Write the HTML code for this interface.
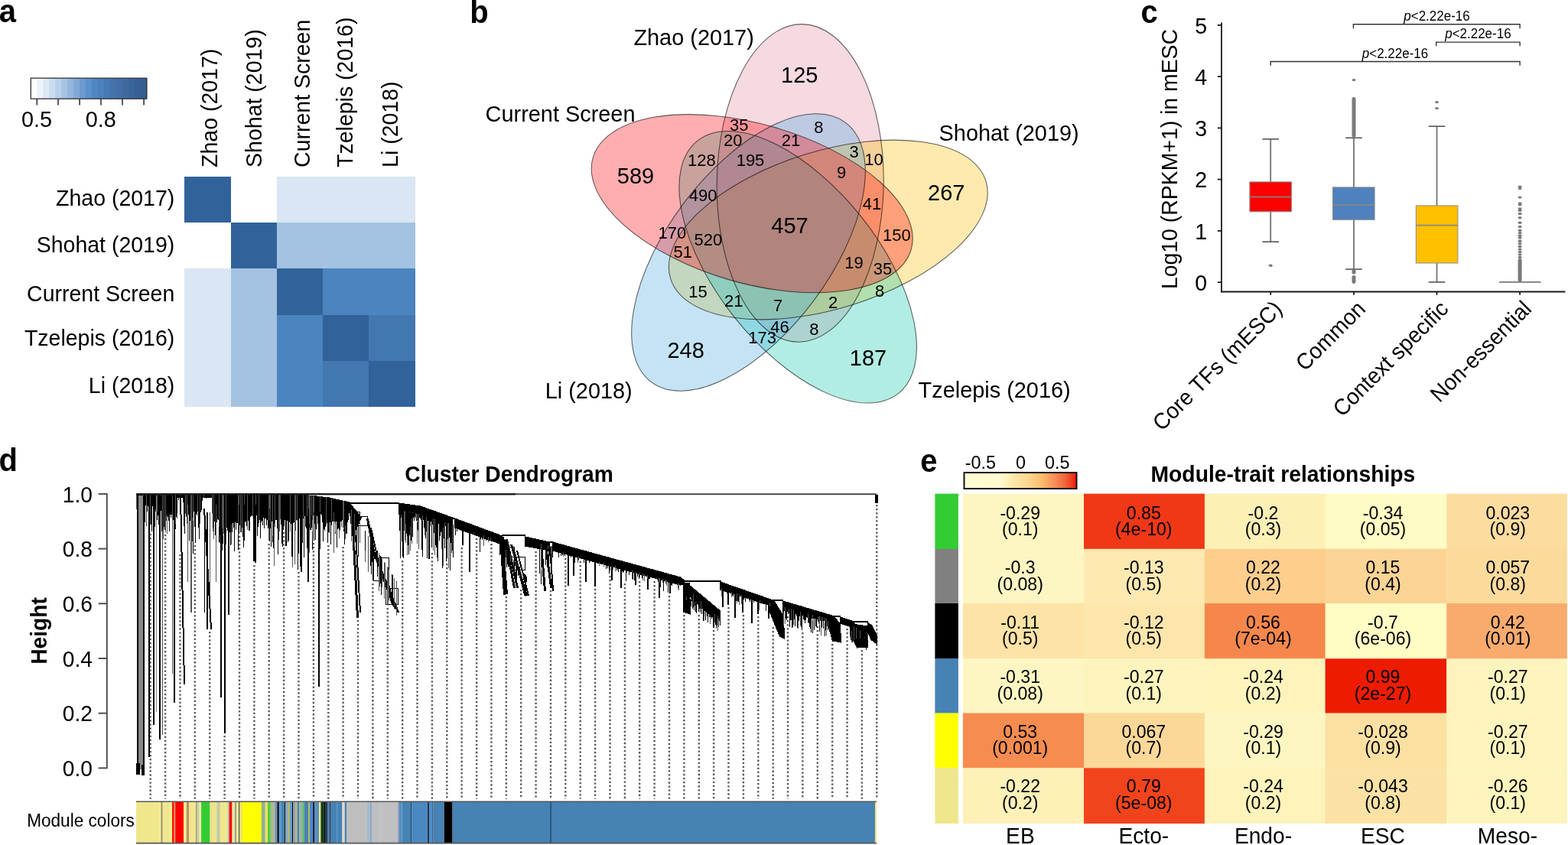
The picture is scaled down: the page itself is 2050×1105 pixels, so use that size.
<!DOCTYPE html>
<html><head><meta charset="utf-8"><title>Figure</title>
<style>html,body{margin:0;padding:0;background:#fff;}body{width:2050px;height:1105px;overflow:hidden;}svg{display:block;}</style>
</head><body>
<svg width="2050" height="1105" viewBox="0 0 2050 1105" font-family="'Liberation Sans', Arial, Helvetica, sans-serif">
<text transform="translate(-1.3 29.3) scale(1 1.04)" font-size="40" text-anchor="start" font-weight="bold">a</text>
<rect x="40.30" y="102.2" width="8.57" height="26.999999999999986" fill="#ffffff"/>
<rect x="48.27" y="102.2" width="8.57" height="26.999999999999986" fill="#eef3fa"/>
<rect x="56.24" y="102.2" width="8.57" height="26.999999999999986" fill="#dde8f4"/>
<rect x="64.21" y="102.2" width="8.57" height="26.999999999999986" fill="#cbdcee"/>
<rect x="72.17" y="102.2" width="8.57" height="26.999999999999986" fill="#b8d0ea"/>
<rect x="80.14" y="102.2" width="8.57" height="26.999999999999986" fill="#a5c3e3"/>
<rect x="88.11" y="102.2" width="8.57" height="26.999999999999986" fill="#93b6dd"/>
<rect x="96.08" y="102.2" width="8.57" height="26.999999999999986" fill="#80a9d6"/>
<rect x="104.05" y="102.2" width="8.57" height="26.999999999999986" fill="#6b9bd0"/>
<rect x="112.02" y="102.2" width="8.57" height="26.999999999999986" fill="#5b91cb"/>
<rect x="119.98" y="102.2" width="8.57" height="26.999999999999986" fill="#4e87c2"/>
<rect x="127.95" y="102.2" width="8.57" height="26.999999999999986" fill="#4a80bc"/>
<rect x="135.92" y="102.2" width="8.57" height="26.999999999999986" fill="#4779b3"/>
<rect x="143.89" y="102.2" width="8.57" height="26.999999999999986" fill="#4473ac"/>
<rect x="151.86" y="102.2" width="8.57" height="26.999999999999986" fill="#416ea6"/>
<rect x="159.83" y="102.2" width="8.57" height="26.999999999999986" fill="#3e6aa0"/>
<rect x="167.79" y="102.2" width="8.57" height="26.999999999999986" fill="#3a659a"/>
<rect x="175.76" y="102.2" width="8.57" height="26.999999999999986" fill="#365f94"/>
<rect x="183.73" y="102.2" width="8.57" height="26.999999999999986" fill="#345c90"/>
<rect x="40.3" y="102.2" width="151.39999999999998" height="26.999999999999986" fill="none" stroke="#333" stroke-width="1.3"/>
<line x1="48.3" y1="129.2" x2="48.3" y2="137.4" stroke="#333" stroke-width="1.6"/>
<line x1="76" y1="129.2" x2="76" y2="137.4" stroke="#333" stroke-width="1.6"/>
<line x1="104.1" y1="129.2" x2="104.1" y2="137.4" stroke="#333" stroke-width="1.6"/>
<line x1="132" y1="129.2" x2="132" y2="137.4" stroke="#333" stroke-width="1.6"/>
<line x1="160" y1="129.2" x2="160" y2="137.4" stroke="#333" stroke-width="1.6"/>
<line x1="188.1" y1="129.2" x2="188.1" y2="137.4" stroke="#333" stroke-width="1.6"/>
<text transform="translate(48.0 166.2) scale(1 1.04)" font-size="28.8" text-anchor="middle">0.5</text>
<text transform="translate(131.8 166.2) scale(1 1.04)" font-size="28.8" text-anchor="middle">0.8</text>
<rect x="241.30" y="231.00" width="60.52" height="60.52" fill="#31639a" shape-rendering="crispEdges"/>
<rect x="301.52" y="231.00" width="60.52" height="60.52" fill="#ffffff" shape-rendering="crispEdges"/>
<rect x="361.74" y="231.00" width="60.52" height="60.52" fill="#dae6f3" shape-rendering="crispEdges"/>
<rect x="421.96" y="231.00" width="60.52" height="60.52" fill="#dae6f3" shape-rendering="crispEdges"/>
<rect x="482.18" y="231.00" width="60.52" height="60.52" fill="#dae6f3" shape-rendering="crispEdges"/>
<rect x="241.30" y="291.22" width="60.52" height="60.52" fill="#ffffff" shape-rendering="crispEdges"/>
<rect x="301.52" y="291.22" width="60.52" height="60.52" fill="#31639a" shape-rendering="crispEdges"/>
<rect x="361.74" y="291.22" width="60.52" height="60.52" fill="#a4c2e2" shape-rendering="crispEdges"/>
<rect x="421.96" y="291.22" width="60.52" height="60.52" fill="#a4c2e2" shape-rendering="crispEdges"/>
<rect x="482.18" y="291.22" width="60.52" height="60.52" fill="#a4c2e2" shape-rendering="crispEdges"/>
<rect x="241.30" y="351.44" width="60.52" height="60.52" fill="#dae6f3" shape-rendering="crispEdges"/>
<rect x="301.52" y="351.44" width="60.52" height="60.52" fill="#a4c2e2" shape-rendering="crispEdges"/>
<rect x="361.74" y="351.44" width="60.52" height="60.52" fill="#31639a" shape-rendering="crispEdges"/>
<rect x="421.96" y="351.44" width="60.52" height="60.52" fill="#4b84be" shape-rendering="crispEdges"/>
<rect x="482.18" y="351.44" width="60.52" height="60.52" fill="#4b84be" shape-rendering="crispEdges"/>
<rect x="241.30" y="411.66" width="60.52" height="60.52" fill="#dae6f3" shape-rendering="crispEdges"/>
<rect x="301.52" y="411.66" width="60.52" height="60.52" fill="#a4c2e2" shape-rendering="crispEdges"/>
<rect x="361.74" y="411.66" width="60.52" height="60.52" fill="#4b84be" shape-rendering="crispEdges"/>
<rect x="421.96" y="411.66" width="60.52" height="60.52" fill="#31639a" shape-rendering="crispEdges"/>
<rect x="482.18" y="411.66" width="60.52" height="60.52" fill="#4377b0" shape-rendering="crispEdges"/>
<rect x="241.30" y="471.88" width="60.52" height="60.52" fill="#dae6f3" shape-rendering="crispEdges"/>
<rect x="301.52" y="471.88" width="60.52" height="60.52" fill="#a4c2e2" shape-rendering="crispEdges"/>
<rect x="361.74" y="471.88" width="60.52" height="60.52" fill="#4b84be" shape-rendering="crispEdges"/>
<rect x="421.96" y="471.88" width="60.52" height="60.52" fill="#4377b0" shape-rendering="crispEdges"/>
<rect x="482.18" y="471.88" width="60.52" height="60.52" fill="#31639a" shape-rendering="crispEdges"/>
<text transform="translate(228.3 268.7) scale(1 1.04)" font-size="28.5" text-anchor="end">Zhao (2017)</text>
<text transform="translate(228.3 329.8) scale(1 1.04)" font-size="28.5" text-anchor="end">Shohat (2019)</text>
<text transform="translate(228.3 393.5) scale(1 1.04)" font-size="28.5" text-anchor="end">Current Screen</text>
<text transform="translate(228.3 452.2) scale(1 1.04)" font-size="28.5" text-anchor="end">Tzelepis (2016)</text>
<text transform="translate(228.3 513.5) scale(1 1.04)" font-size="28.5" text-anchor="end">Li (2018)</text>
<text x="0" y="0" font-size="28.5" transform="translate(283.5,218.9) rotate(-90) scale(1 1.04)">Zhao (2017)</text>
<text x="0" y="0" font-size="28.5" transform="translate(342.2,218.9) rotate(-90) scale(1 1.04)">Shohat (2019)</text>
<text x="0" y="0" font-size="28.5" transform="translate(404.5,218.9) rotate(-90) scale(1 1.04)">Current Screen</text>
<text x="0" y="0" font-size="28.5" transform="translate(461.0,218.9) rotate(-90) scale(1 1.04)">Tzelepis (2016)</text>
<text x="0" y="0" font-size="28.5" transform="translate(519.8,218.9) rotate(-90) scale(1 1.04)">Li (2018)</text>
<text transform="translate(614.3 29.5) scale(1 1.04)" font-size="40" text-anchor="start" font-weight="bold">b</text>
<ellipse cx="1046.2" cy="239.4" rx="207.8" ry="109.0" transform="rotate(90.8 1046.2 239.4)" fill="#e388a1" fill-opacity="0.32" stroke="none"/>
<ellipse cx="1082.8" cy="300.5" rx="215.8" ry="103.1" transform="rotate(162.8 1082.8 300.5)" fill="#fcbd02" fill-opacity="0.32" stroke="none"/>
<ellipse cx="1043.2" cy="349.3" rx="211.0" ry="105.8" transform="rotate(51.5 1043.2 349.3)" fill="#0ec7ab" fill-opacity="0.32" stroke="none"/>
<ellipse cx="978.5" cy="330.0" rx="211.9" ry="106.2" transform="rotate(126.8 978.5 330.0)" fill="#47abe3" fill-opacity="0.32" stroke="none"/>
<ellipse cx="983.2" cy="266.2" rx="216.5" ry="104.0" transform="rotate(16.1 983.2 266.2)" fill="#ff0208" fill-opacity="0.32" stroke="none"/>
<ellipse cx="1046.2" cy="239.4" rx="207.8" ry="109.0" transform="rotate(90.8 1046.2 239.4)" fill="none" stroke="#000" stroke-opacity="0.62" stroke-width="1.05"/>
<ellipse cx="1082.8" cy="300.5" rx="215.8" ry="103.1" transform="rotate(162.8 1082.8 300.5)" fill="none" stroke="#000" stroke-opacity="0.62" stroke-width="1.05"/>
<ellipse cx="1043.2" cy="349.3" rx="211.0" ry="105.8" transform="rotate(51.5 1043.2 349.3)" fill="none" stroke="#000" stroke-opacity="0.62" stroke-width="1.05"/>
<ellipse cx="978.5" cy="330.0" rx="211.9" ry="106.2" transform="rotate(126.8 978.5 330.0)" fill="none" stroke="#000" stroke-opacity="0.62" stroke-width="1.05"/>
<ellipse cx="983.2" cy="266.2" rx="216.5" ry="104.0" transform="rotate(16.1 983.2 266.2)" fill="none" stroke="#000" stroke-opacity="0.62" stroke-width="1.05"/>
<text transform="translate(1045.3 107.7) scale(1 1.04)" font-size="29" text-anchor="middle">125</text>
<text transform="translate(831.0 239.5) scale(1 1.04)" font-size="29" text-anchor="middle">589</text>
<text transform="translate(1237.2 261.8) scale(1 1.04)" font-size="29" text-anchor="middle">267</text>
<text transform="translate(896.6 468.0) scale(1 1.04)" font-size="29" text-anchor="middle">248</text>
<text transform="translate(1135.0 478.0) scale(1 1.04)" font-size="29" text-anchor="middle">187</text>
<text transform="translate(1032.5 305.4) scale(1 1.04)" font-size="29" text-anchor="middle">457</text>
<text transform="translate(966.2 170.7) scale(1 1.04)" font-size="22" text-anchor="middle">35</text>
<text transform="translate(1070.3 173.7) scale(1 1.04)" font-size="22" text-anchor="middle">8</text>
<text transform="translate(958.3 191.2) scale(1 1.04)" font-size="22" text-anchor="middle">20</text>
<text transform="translate(1034.0 191.2) scale(1 1.04)" font-size="22" text-anchor="middle">21</text>
<text transform="translate(1116.6 206.2) scale(1 1.04)" font-size="22" text-anchor="middle">3</text>
<text transform="translate(1142.4 216.2) scale(1 1.04)" font-size="22" text-anchor="middle">10</text>
<text transform="translate(917.4 216.8) scale(1 1.04)" font-size="22" text-anchor="middle">128</text>
<text transform="translate(981.0 216.8) scale(1 1.04)" font-size="22" text-anchor="middle">195</text>
<text transform="translate(1100.2 232.7) scale(1 1.04)" font-size="22" text-anchor="middle">9</text>
<text transform="translate(919.2 262.9) scale(1 1.04)" font-size="22" text-anchor="middle">490</text>
<text transform="translate(1140.0 274.2) scale(1 1.04)" font-size="22" text-anchor="middle">41</text>
<text transform="translate(878.9 311.9) scale(1 1.04)" font-size="22" text-anchor="middle">170</text>
<text transform="translate(925.8 320.7) scale(1 1.04)" font-size="22" text-anchor="middle">520</text>
<text transform="translate(1172.3 314.7) scale(1 1.04)" font-size="22" text-anchor="middle">150</text>
<text transform="translate(892.8 336.8) scale(1 1.04)" font-size="22" text-anchor="middle">51</text>
<text transform="translate(1116.6 350.7) scale(1 1.04)" font-size="22" text-anchor="middle">19</text>
<text transform="translate(1153.9 359.2) scale(1 1.04)" font-size="22" text-anchor="middle">35</text>
<text transform="translate(912.5 388.7) scale(1 1.04)" font-size="22" text-anchor="middle">15</text>
<text transform="translate(1150.0 387.7) scale(1 1.04)" font-size="22" text-anchor="middle">8</text>
<text transform="translate(959.3 401.2) scale(1 1.04)" font-size="22" text-anchor="middle">21</text>
<text transform="translate(1017.0 406.7) scale(1 1.04)" font-size="22" text-anchor="middle">7</text>
<text transform="translate(1089.2 402.7) scale(1 1.04)" font-size="22" text-anchor="middle">2</text>
<text transform="translate(1019.5 435.2) scale(1 1.04)" font-size="22" text-anchor="middle">46</text>
<text transform="translate(1064.3 437.7) scale(1 1.04)" font-size="22" text-anchor="middle">8</text>
<text transform="translate(996.6 449.2) scale(1 1.04)" font-size="22" text-anchor="middle">173</text>
<text transform="translate(828.4 59.0) scale(1 1.04)" font-size="28.9" text-anchor="start">Zhao (2017)</text>
<text transform="translate(634.6 158.5) scale(1 1.04)" font-size="28.9" text-anchor="start">Current Screen</text>
<text transform="translate(1227.6 184.1) scale(1 1.04)" font-size="28.9" text-anchor="start">Shohat (2019)</text>
<text transform="translate(712.7 521.4) scale(1 1.04)" font-size="28.9" text-anchor="start">Li (2018)</text>
<text transform="translate(1200.6 519.6) scale(1 1.04)" font-size="28.9" text-anchor="start">Tzelepis (2016)</text>
<text transform="translate(1491.5 29.5) scale(1 1.04)" font-size="40" text-anchor="start" font-weight="bold">c</text>
<line x1="1597.0" y1="29.5" x2="1597.0" y2="382.3" stroke="#1a1a1a" stroke-width="1.8"/>
<line x1="1596.1" y1="381.5" x2="2046.4" y2="381.5" stroke="#1a1a1a" stroke-width="1.8"/>
<line x1="1591.8" y1="369.1" x2="1597.0" y2="369.1" stroke="#1a1a1a" stroke-width="1.8"/>
<text transform="translate(1578.2 379.7) scale(1 1.04)" font-size="28.5" text-anchor="end">0</text>
<line x1="1591.8" y1="301.9" x2="1597.0" y2="301.9" stroke="#1a1a1a" stroke-width="1.8"/>
<text transform="translate(1578.2 312.5) scale(1 1.04)" font-size="28.5" text-anchor="end">1</text>
<line x1="1591.8" y1="234.6" x2="1597.0" y2="234.6" stroke="#1a1a1a" stroke-width="1.8"/>
<text transform="translate(1578.2 245.2) scale(1 1.04)" font-size="28.5" text-anchor="end">2</text>
<line x1="1591.8" y1="167.4" x2="1597.0" y2="167.4" stroke="#1a1a1a" stroke-width="1.8"/>
<text transform="translate(1578.2 178.0) scale(1 1.04)" font-size="28.5" text-anchor="end">3</text>
<line x1="1591.8" y1="100.1" x2="1597.0" y2="100.1" stroke="#1a1a1a" stroke-width="1.8"/>
<text transform="translate(1578.2 110.7) scale(1 1.04)" font-size="28.5" text-anchor="end">4</text>
<line x1="1591.8" y1="32.9" x2="1597.0" y2="32.9" stroke="#1a1a1a" stroke-width="1.8"/>
<text transform="translate(1578.2 43.5) scale(1 1.04)" font-size="28.5" text-anchor="end">5</text>
<text x="0" y="0" font-size="28.4" text-anchor="middle" transform="translate(1539,208) rotate(-90) scale(1 1.04)">Log10 (RPKM+1) in mESC</text>
<line x1="1661.2" y1="381.5" x2="1661.2" y2="385.8" stroke="#1a1a1a" stroke-width="1.8"/>
<line x1="1770.0" y1="381.5" x2="1770.0" y2="385.8" stroke="#1a1a1a" stroke-width="1.8"/>
<line x1="1878.5" y1="381.5" x2="1878.5" y2="385.8" stroke="#1a1a1a" stroke-width="1.8"/>
<line x1="1987.1" y1="381.5" x2="1987.1" y2="385.8" stroke="#1a1a1a" stroke-width="1.8"/>
<line x1="1661.2" y1="181.9" x2="1661.2" y2="237.9" stroke="#7a7a7a" stroke-width="1.9"/>
<line x1="1661.2" y1="276.8" x2="1661.2" y2="316.2" stroke="#7a7a7a" stroke-width="1.9"/>
<line x1="1650.4" y1="181.9" x2="1672.0" y2="181.9" stroke="#555555" stroke-width="1.6"/>
<line x1="1650.4" y1="316.2" x2="1672.0" y2="316.2" stroke="#555555" stroke-width="1.6"/>
<rect x="1633.9" y="237.9" width="54.5" height="38.9" fill="#fa0000" stroke="#8a8a8a" stroke-width="1"/>
<line x1="1633.9" y1="257.5" x2="1688.4" y2="257.5" stroke="#888" stroke-width="1.7"/>
<line x1="1770.0" y1="180.3" x2="1770.0" y2="244.9" stroke="#7a7a7a" stroke-width="1.9"/>
<line x1="1770.0" y1="287.3" x2="1770.0" y2="352.1" stroke="#7a7a7a" stroke-width="1.9"/>
<line x1="1759.2" y1="180.3" x2="1780.8" y2="180.3" stroke="#555555" stroke-width="1.6"/>
<line x1="1759.2" y1="352.1" x2="1780.8" y2="352.1" stroke="#555555" stroke-width="1.6"/>
<rect x="1742.5" y="244.9" width="54.6" height="42.4" fill="#4f81bd" stroke="#8a8a8a" stroke-width="1"/>
<line x1="1742.5" y1="267.9" x2="1797.1" y2="267.9" stroke="#888" stroke-width="1.7"/>
<line x1="1878.5" y1="165.2" x2="1878.5" y2="268.9" stroke="#7a7a7a" stroke-width="1.9"/>
<line x1="1878.5" y1="344.0" x2="1878.5" y2="368.9" stroke="#7a7a7a" stroke-width="1.9"/>
<line x1="1867.7" y1="165.2" x2="1889.3" y2="165.2" stroke="#555555" stroke-width="1.6"/>
<line x1="1867.7" y1="368.9" x2="1889.3" y2="368.9" stroke="#555555" stroke-width="1.6"/>
<rect x="1851.3" y="268.9" width="54.6" height="75.1" fill="#ffc000" stroke="#8a8a8a" stroke-width="1"/>
<line x1="1851.3" y1="294.6" x2="1905.9" y2="294.6" stroke="#888" stroke-width="1.7"/>
<line x1="1960" y1="368.9" x2="2014.6" y2="368.9" stroke="#7a7a7a" stroke-width="1.9"/>
<ellipse cx="1661.2" cy="347.3" rx="2.5" ry="1.7" fill="#7a7a7a"/>
<ellipse cx="1770.0" cy="104.6" rx="2.5" ry="1.7" fill="#7a7a7a"/>
<ellipse cx="1878.5" cy="133.6" rx="2.5" ry="1.7" fill="#7a7a7a"/>
<ellipse cx="1878.5" cy="141.6" rx="2.5" ry="1.7" fill="#7a7a7a"/>
<ellipse cx="1987.1" cy="244.2" rx="2.5" ry="1.7" fill="#7a7a7a"/>
<ellipse cx="1987.1" cy="246.6" rx="2.5" ry="1.7" fill="#7a7a7a"/>
<ellipse cx="1987.1" cy="258.1" rx="2.5" ry="1.7" fill="#7a7a7a"/>
<ellipse cx="1987.1" cy="265.9" rx="2.5" ry="1.7" fill="#7a7a7a"/>
<ellipse cx="1987.1" cy="267.8" rx="2.5" ry="1.7" fill="#7a7a7a"/>
<ellipse cx="1987.1" cy="272.9" rx="2.5" ry="1.7" fill="#7a7a7a"/>
<ellipse cx="1987.1" cy="275.3" rx="2.5" ry="1.7" fill="#7a7a7a"/>
<ellipse cx="1987.1" cy="279.5" rx="2.5" ry="1.7" fill="#7a7a7a"/>
<ellipse cx="1987.1" cy="284.7" rx="2.5" ry="1.7" fill="#7a7a7a"/>
<ellipse cx="1987.1" cy="291.3" rx="2.5" ry="1.7" fill="#7a7a7a"/>
<ellipse cx="1987.1" cy="296.5" rx="2.5" ry="1.7" fill="#7a7a7a"/>
<ellipse cx="1987.1" cy="301.2" rx="2.5" ry="1.7" fill="#7a7a7a"/>
<ellipse cx="1987.1" cy="304.7" rx="2.5" ry="1.7" fill="#7a7a7a"/>
<ellipse cx="1987.1" cy="308.2" rx="2.5" ry="1.7" fill="#7a7a7a"/>
<ellipse cx="1987.1" cy="311.0" rx="2.5" ry="1.7" fill="#7a7a7a"/>
<ellipse cx="1987.1" cy="315.3" rx="2.5" ry="1.7" fill="#7a7a7a"/>
<ellipse cx="1987.1" cy="318.8" rx="2.5" ry="1.7" fill="#7a7a7a"/>
<ellipse cx="1987.1" cy="322.4" rx="2.5" ry="1.7" fill="#7a7a7a"/>
<ellipse cx="1987.1" cy="325.9" rx="2.5" ry="1.7" fill="#7a7a7a"/>
<ellipse cx="1987.1" cy="329.4" rx="2.5" ry="1.7" fill="#7a7a7a"/>
<ellipse cx="1987.1" cy="332.9" rx="2.5" ry="1.7" fill="#7a7a7a"/>
<ellipse cx="1987.1" cy="336.5" rx="2.5" ry="1.7" fill="#7a7a7a"/>
<rect x="1767.5" y="127" width="5" height="53" rx="2.4" fill="#7a7a7a"/>
<rect x="1767.5" y="352" width="5" height="6.5" rx="2" fill="#7a7a7a"/>
<rect x="1767.5" y="360" width="5" height="11" rx="2.4" fill="#7a7a7a"/>
<rect x="1984.6" y="338" width="5" height="31" rx="2.4" fill="#7a7a7a"/>
<path d="M1769.4,37.2 L1769.4,31.7 L1987.1,31.7 L1987.1,37.2" fill="none" stroke="#333" stroke-width="1.4"/><text transform="translate(1878.5 27) scale(1 1.04)" font-size="17" text-anchor="middle"><tspan font-style="italic">p</tspan>&lt;2.22e-16</text>
<path d="M1877.7,60.3 L1877.7,55.1 L1987.1,55.1 L1987.1,60.3" fill="none" stroke="#333" stroke-width="1.4"/><text transform="translate(1932.4 49.5) scale(1 1.04)" font-size="17" text-anchor="middle"><tspan font-style="italic">p</tspan>&lt;2.22e-16</text>
<path d="M1661.2,85.8 L1661.2,80.5 L1987.1,80.5 L1987.1,85.8" fill="none" stroke="#333" stroke-width="1.4"/><text transform="translate(1824 76.4) scale(1 1.04)" font-size="17" text-anchor="middle"><tspan font-style="italic">p</tspan>&lt;2.22e-16</text>
<text x="0" y="0" font-size="28.2" text-anchor="end" transform="translate(1678.0,405.6) rotate(-45) scale(1 1.04)">Core TFs (mESC)</text>
<text x="0" y="0" font-size="28.2" text-anchor="end" transform="translate(1786.8,405.6) rotate(-45) scale(1 1.04)">Common</text>
<text x="0" y="0" font-size="28.2" text-anchor="end" transform="translate(1895.3,405.6) rotate(-45) scale(1 1.04)">Context specific</text>
<text x="0" y="0" font-size="28.2" text-anchor="end" transform="translate(2003.9,405.6) rotate(-45) scale(1 1.04)">Non-essential</text>
<text transform="translate(-1.5 616.3) scale(1 1.04)" font-size="40" text-anchor="start" font-weight="bold">d</text>
<text transform="translate(665.6 630.1) scale(1 1.04)" font-size="28.2" text-anchor="middle" font-weight="bold">Cluster Dendrogram</text>
<line x1="139.8" y1="1005.2" x2="139.8" y2="645.1" stroke="#505050" stroke-width="2"/>
<line x1="128.6" y1="1004.4" x2="139.8" y2="1004.4" stroke="#505050" stroke-width="2"/>
<text transform="translate(121.0 1015.0) scale(1 1.04)" font-size="28.2" text-anchor="end">0.0</text>
<line x1="128.6" y1="932.7" x2="139.8" y2="932.7" stroke="#505050" stroke-width="2"/>
<text transform="translate(121.0 943.3) scale(1 1.04)" font-size="28.2" text-anchor="end">0.2</text>
<line x1="128.6" y1="861.0" x2="139.8" y2="861.0" stroke="#505050" stroke-width="2"/>
<text transform="translate(121.0 871.6) scale(1 1.04)" font-size="28.2" text-anchor="end">0.4</text>
<line x1="128.6" y1="789.3" x2="139.8" y2="789.3" stroke="#505050" stroke-width="2"/>
<text transform="translate(121.0 799.9) scale(1 1.04)" font-size="28.2" text-anchor="end">0.6</text>
<line x1="128.6" y1="717.6" x2="139.8" y2="717.6" stroke="#505050" stroke-width="2"/>
<text transform="translate(121.0 728.2) scale(1 1.04)" font-size="28.2" text-anchor="end">0.8</text>
<line x1="128.6" y1="645.9" x2="139.8" y2="645.9" stroke="#505050" stroke-width="2"/>
<text transform="translate(121.0 656.5) scale(1 1.04)" font-size="28.2" text-anchor="end">1.0</text>
<text x="0" y="0" font-size="28.2" font-weight="bold" text-anchor="middle" transform="translate(61.2,825) rotate(-90) scale(1 1.04)">Height</text>
<text transform="translate(175.8 1081.3) scale(1 1.04)" font-size="22.6" text-anchor="end">Module colors</text>
<path d="M196.7 698V1044.7 M216.1 699V1044.7 M235.5 725V1044.7 M254.8 713V1044.7 M274.2 826V1044.7 M293.6 962V1044.7 M313.0 701V1044.7 M332.4 739V1044.7 M351.7 711V1044.7 M371.1 696V1044.7 M390.5 748V1044.7 M409.9 710V1044.7 M429.3 713V1044.7 M448.6 715V1044.7 M468.0 811V1044.7 M487.4 763V1044.7 M506.8 795V1044.7 M526.2 733V1044.7 M545.5 721V1044.7 M564.9 723V1044.7 M584.3 737V1044.7 M603.7 716V1044.7 M623.1 704V1044.7 M642.4 711V1044.7 M661.8 780V1044.7 M681.2 771V1044.7 M700.6 721V1044.7 M720.0 772V1044.7 M739.3 730V1044.7 M758.7 734V1044.7 M778.1 770V1044.7 M797.5 753V1044.7 M816.9 763V1044.7 M836.2 760V1044.7 M855.6 760V1044.7 M875.0 779V1044.7 M894.4 804V1044.7 M913.8 804V1044.7 M933.1 824V1044.7 M952.5 794V1044.7 M971.9 804V1044.7 M991.3 806V1044.7 M1010.7 820V1044.7 M1030.0 806V1044.7 M1049.4 827V1044.7 M1068.8 819V1044.7 M1088.2 842V1044.7 M1107.6 822V1044.7 M1126.9 850V1044.7 M1146.3 660V1044.7" stroke="#585858" stroke-width="2.4" stroke-dasharray="2.3 2.77" fill="none"/>
<path d="M178 647h1v19h-1zM187 647h1v1h-1zM191 647h1v41h-1zM196 647h1v39h-1zM203 666h1v3h-1zM205 647h1v22h-1zM209 647h1v1h-1zM212 647h1v314h-1zM213 692h1v13h-1zM214 647h1v42h-1zM216 647h1v49h-1zM217 675h1v6h-1zM218 673h1v25h-1zM225 648h1v233h-1zM229 647h1v38h-1zM231 671h1v7h-1zM235 647h1v1h-1zM242 647h1v25h-1zM243 675h1v1h-1zM244 647h1v38h-1zM245 660h1v101h-1zM249 647h1v154h-1zM250 647h1v154h-1zM251 677h1v31h-1zM252 647h1v34h-1zM258 647h1v22h-1zM261 647h1v38h-1zM266 647h1v4h-1zM274 670h1v109h-1zM277 647h1v24h-1zM278 690h1v5h-1zM279 647h1v58h-1zM282 660h1v101h-1zM286 647h1v42h-1zM287 700h1v10h-1zM290 647h1v44h-1zM291 647h1v54h-1zM292 647h1v51h-1zM295 647h1v45h-1zM295 697h1v15h-1zM302 686h1v26h-1zM311 647h1v52h-1zM312 647h1v13h-1zM314 647h1v49h-1zM316 647h1v43h-1zM319 647h1v13h-1zM323 647h1v46h-1zM326 693h1v1h-1zM330 647h1v29h-1zM334 647h1v13h-1zM338 647h1v37h-1zM351 647h1v33h-1zM351 688h1v19h-1zM352 647h1v18h-1zM353 647h1v39h-1zM356 647h1v54h-1zM358 685h1v55h-1zM359 647h1v42h-1zM364 647h1v59h-1zM365 647h1v48h-1zM366 647h1v32h-1zM379 647h1v48h-1zM382 728h1v14h-1zM385 647h1v91h-1zM386 647h1v47h-1zM388 647h1v34h-1zM396 647h1v31h-1zM401 647h1v28h-1zM403 647h1v18h-1zM404 648h1v37h-1zM404 690h1v33h-1zM405 648h1v45h-1zM407 648h1v26h-1zM408 680h1v15h-1zM409 648h1v26h-1zM410 648h1v22h-1zM411 673h1v12h-1zM418 649h1v21h-1zM426 650h1v37h-1zM433 651h1v30h-1zM436 670h1v53h-1zM438 685h1v10h-1zM443 694h1v10h-1zM446 682h1v7h-1zM448 655h1v35h-1zM449 655h1v37h-1zM451 687h1v18h-1zM459 666h1v42h-1zM463 672h1v43h-1zM470 683h1v27h-1zM477 720h1v15h-1zM481 701h1v47h-1zM495 723h1v50h-1zM496 726h1v41h-1zM499 731h1v37h-1zM502 735h1v48h-1zM503 736h1v32h-1zM506 741h1v49h-1zM507 742h1v50h-1zM508 745h1v40h-1zM515 756h1v41h-1zM518 761h1v44h-1zM524 673h1v4h-1zM528 668h1v26h-1zM529 669h1v38h-1zM530 685h1v25h-1zM532 701h1v25h-1zM535 669h1v1h-1zM536 689h1v31h-1zM538 678h1v33h-1zM539 670h1v1h-1zM543 671h1v7h-1zM544 672h1v7h-1zM545 672h1v11h-1zM545 692h1v19h-1zM546 680h1v14h-1zM547 672h1v46h-1zM552 674h1v7h-1zM555 692h1v8h-1zM557 676h1v19h-1zM566 678h1v42h-1zM568 679h1v47h-1zM577 695h1v23h-1zM579 690h1v50h-1zM581 683h1v20h-1zM585 684h1v21h-1zM586 684h1v59h-1zM591 686h1v34h-1zM619 696h1v4h-1zM632 700h1v14h-1zM638 702h1v7h-1zM641 703h1v5h-1zM661 719h1v10h-1zM665 724h1v1h-1zM667 726h1v9h-1zM671 732h1v8h-1zM674 736h1v9h-1zM676 744h1v1h-1zM707 711h1v35h-1zM716 713h1v5h-1zM720 714h1v10h-1zM721 714h1v32h-1zM736 722h1v6h-1zM755 732h1v4h-1zM756 728h1v5h-1zM783 735h1v5h-1zM789 736h1v5h-1zM801 740h1v5h-1zM804 740h1v7h-1zM826 746h1v11h-1zM831 748h1v5h-1zM836 749h1v6h-1zM840 750h1v9h-1zM842 751h1v9h-1zM846 752h1v5h-1zM861 756h1v6h-1zM862 756h1v6h-1zM866 757h1v5h-1zM870 758h1v4h-1zM871 759h1v7h-1zM886 763h1v7h-1zM887 763h1v9h-1zM897 780h1v5h-1zM906 777h1v17h-1zM908 787h1v5h-1zM910 780h1v1h-1zM910 787h1v1h-1zM916 786h1v10h-1zM920 806h1v6h-1zM928 804h1v12h-1zM934 803h1v11h-1zM936 821h1v1h-1zM937 809h1v9h-1zM938 805h1v20h-1zM939 810h1v10h-1zM940 808h1v4h-1zM943 770h1v10h-1zM956 774h1v7h-1zM963 776h1v13h-1zM966 777h1v14h-1zM969 778h1v12h-1zM992 788h1v10h-1zM993 785h1v4h-1zM1006 788h1v5h-1zM1024 800h1v18h-1zM1026 794h1v22h-1zM1031 796h1v6h-1zM1034 797h1v14h-1zM1037 797h1v20h-1zM1041 805h1v1h-1zM1043 810h1v12h-1zM1046 800h1v18h-1zM1056 802h1v10h-1zM1062 804h1v8h-1zM1070 806h1v10h-1zM1071 806h1v12h-1zM1073 807h1v24h-1zM1074 820h1v1h-1zM1075 807h1v5h-1zM1078 808h1v7h-1zM1080 809h1v22h-1zM1082 812h1v8h-1zM1111 830h1v3h-1zM1113 825h1v15h-1zM1116 819h1v18h-1zM1119 821h1v14h-1zM1124 824h1v11h-1zM1130 833h1v1h-1zM1132 827h1v1h-1zM1134 828h1v9h-1z" fill="#555"/>
<path d="M178 998h1v15h-1zM179 647h1v366h-1zM180 647h1v366h-1zM181 647h1v1h-1zM181 998h1v15h-1zM182 647h1v1h-1zM182 998h1v15h-1zM183 647h1v1h-1zM184 647h1v1h-1zM185 647h1v1h-1zM185 1000h1v14h-1zM186 647h1v1h-1zM186 1000h1v14h-1zM187 648h1v366h-1zM188 647h1v367h-1zM189 647h1v36h-1zM190 647h1v14h-1zM192 647h1v22h-1zM193 647h1v15h-1zM194 647h1v343h-1zM195 647h1v343h-1zM197 647h1v39h-1zM198 647h1v48h-1zM199 647h1v15h-1zM200 647h1v301h-1zM201 647h1v301h-1zM202 647h1v42h-1zM203 647h1v19h-1zM204 647h1v1h-1zM205 669h1v11h-1zM206 647h1v27h-1zM207 647h1v39h-1zM208 647h1v320h-1zM209 648h1v319h-1zM210 647h1v21h-1zM211 647h1v48h-1zM213 647h1v45h-1zM215 647h1v46h-1zM217 647h1v28h-1zM218 647h1v26h-1zM219 647h1v29h-1zM220 647h1v34h-1zM221 647h1v48h-1zM222 647h1v26h-1zM223 647h1v30h-1zM224 647h1v26h-1zM225 647h1v1h-1zM226 647h1v33h-1zM227 647h1v272h-1zM228 647h1v272h-1zM229 685h1v7h-1zM230 647h1v29h-1zM231 647h1v24h-1zM232 647h1v4h-1zM233 647h1v7h-1zM234 647h1v4h-1zM235 648h1v25h-1zM236 647h1v75h-1zM237 647h1v4h-1zM237 673h1v98h-1zM238 647h1v4h-1zM238 722h1v99h-1zM239 647h1v10h-1zM239 772h1v98h-1zM240 647h1v41h-1zM240 821h1v74h-1zM241 647h1v51h-1zM241 870h1v25h-1zM243 647h1v28h-1zM245 647h1v13h-1zM246 647h1v26h-1zM247 647h1v60h-1zM248 647h1v34h-1zM251 647h1v30h-1zM252 681h1v43h-1zM253 647h1v22h-1zM254 647h1v42h-1zM255 647h1v63h-1zM256 647h1v25h-1zM257 647h1v27h-1zM259 647h1v43h-1zM260 647h1v58h-1zM262 647h1v23h-1zM263 647h1v20h-1zM264 647h1v8h-1zM265 647h1v4h-1zM266 665h1v9h-1zM267 647h1v4h-1zM267 665h1v136h-1zM268 647h1v4h-1zM268 674h1v35h-1zM269 647h1v5h-1zM269 692h1v35h-1zM270 647h1v4h-1zM270 670h1v153h-1zM271 647h1v4h-1zM271 670h1v153h-1zM272 647h1v4h-1zM272 744h1v35h-1zM273 647h1v4h-1zM273 761h1v35h-1zM274 647h1v4h-1zM274 779h1v35h-1zM275 647h1v4h-1zM275 796h1v27h-1zM276 647h1v4h-1zM276 814h1v9h-1zM278 647h1v43h-1zM280 647h1v35h-1zM281 647h1v53h-1zM282 647h1v13h-1zM283 647h1v36h-1zM284 647h1v32h-1zM285 647h1v33h-1zM286 689h1v20h-1zM287 647h1v53h-1zM288 647h1v265h-1zM289 647h1v265h-1zM290 691h1v29h-1zM291 701h1v10h-1zM293 647h1v312h-1zM294 647h1v312h-1zM295 692h1v5h-1zM296 647h1v43h-1zM297 647h1v47h-1zM298 647h1v157h-1zM299 647h1v157h-1zM300 647h1v49h-1zM301 647h1v66h-1zM302 647h1v39h-1zM303 647h1v49h-1zM304 647h1v37h-1zM305 647h1v43h-1zM306 647h1v74h-1zM307 647h1v36h-1zM308 647h1v46h-1zM309 647h1v37h-1zM310 647h1v37h-1zM311 699h1v20h-1zM312 660h1v38h-1zM313 647h1v40h-1zM315 647h1v49h-1zM317 647h1v55h-1zM318 647h1v69h-1zM319 660h1v47h-1zM320 647h1v36h-1zM321 647h1v35h-1zM322 647h1v41h-1zM324 647h1v34h-1zM325 647h1v47h-1zM326 647h1v46h-1zM327 647h1v29h-1zM328 647h1v28h-1zM329 647h1v27h-1zM331 647h1v87h-1zM332 647h1v87h-1zM333 647h1v89h-1zM334 660h1v76h-1zM335 647h1v27h-1zM336 647h1v54h-1zM337 647h1v42h-1zM339 647h1v33h-1zM340 647h1v57h-1zM341 647h1v36h-1zM342 647h1v34h-1zM343 647h1v40h-1zM344 647h1v30h-1zM345 647h1v44h-1zM346 647h1v31h-1zM347 647h1v31h-1zM348 647h1v40h-1zM349 647h1v33h-1zM350 647h1v44h-1zM351 680h1v8h-1zM352 665h1v43h-1zM353 686h1v5h-1zM354 647h1v68h-1zM355 647h1v35h-1zM356 701h1v8h-1zM357 647h1v70h-1zM358 647h1v38h-1zM360 647h1v33h-1zM361 647h1v33h-1zM362 647h1v44h-1zM363 647h1v78h-1zM367 647h1v39h-1zM368 647h1v64h-1zM369 647h1v68h-1zM370 647h1v46h-1zM371 647h1v41h-1zM372 647h1v33h-1zM373 647h1v67h-1zM374 647h1v67h-1zM375 647h1v34h-1zM376 647h1v62h-1zM377 647h1v60h-1zM378 647h1v36h-1zM380 647h1v38h-1zM381 647h1v81h-1zM382 647h1v81h-1zM383 647h1v37h-1zM384 647h1v36h-1zM387 647h1v33h-1zM389 647h1v98h-1zM390 647h1v77h-1zM391 647h1v31h-1zM392 647h1v94h-1zM393 647h1v101h-1zM394 647h1v101h-1zM395 647h1v63h-1zM397 647h1v82h-1zM398 647h1v28h-1zM399 647h1v42h-1zM400 647h1v44h-1zM401 675h1v42h-1zM402 647h1v114h-1zM403 665h1v96h-1zM404 685h1v5h-1zM406 648h1v45h-1zM407 674h1v16h-1zM408 648h1v32h-1zM408 695h1v24h-1zM410 670h1v37h-1zM411 648h1v25h-1zM412 648h1v58h-1zM413 648h1v44h-1zM414 649h1v26h-1zM415 649h1v36h-1zM416 649h1v249h-1zM417 649h1v249h-1zM418 670h1v48h-1zM419 649h1v23h-1zM420 649h1v25h-1zM421 649h1v34h-1zM422 650h1v58h-1zM423 650h1v42h-1zM424 650h1v44h-1zM425 650h1v39h-1zM427 650h1v34h-1zM428 650h1v60h-1zM429 650h1v46h-1zM430 650h1v47h-1zM431 651h1v32h-1zM432 651h1v61h-1zM433 681h1v6h-1zM434 651h1v31h-1zM435 652h1v30h-1zM436 652h1v18h-1zM437 652h1v30h-1zM438 652h1v33h-1zM438 695h1v3h-1zM439 653h1v29h-1zM440 653h1v63h-1zM441 653h1v39h-1zM442 653h1v38h-1zM443 653h1v41h-1zM444 654h1v39h-1zM445 654h1v28h-1zM446 654h1v28h-1zM447 654h1v26h-1zM449 692h1v3h-1zM450 655h1v57h-1zM451 655h1v32h-1zM452 655h1v43h-1zM453 656h1v42h-1zM454 656h1v27h-1zM455 656h1v24h-1zM456 656h1v15h-1zM457 657h1v18h-1zM458 657h1v28h-1zM459 657h1v2h-1zM459 660h1v6h-1zM460 657h1v2h-1zM460 661h1v40h-1zM461 657h1v2h-1zM461 662h1v58h-1zM462 657h1v2h-1zM462 664h1v75h-1zM463 657h1v2h-1zM463 665h1v7h-1zM463 715h1v44h-1zM464 657h1v2h-1zM464 666h1v43h-1zM464 720h1v58h-1zM465 657h1v2h-1zM465 667h1v26h-1zM465 700h1v25h-1zM465 739h1v59h-1zM466 657h1v2h-1zM466 668h1v74h-1zM466 759h1v49h-1zM467 657h1v2h-1zM467 669h1v20h-1zM467 726h1v33h-1zM467 778h1v30h-1zM468 657h1v2h-1zM468 669h1v1h-1zM468 671h1v57h-1zM468 742h1v33h-1zM468 798h1v10h-1zM469 657h1v2h-1zM469 669h1v1h-1zM469 672h1v13h-1zM469 687h1v1h-1zM469 759h1v33h-1zM470 657h1v2h-1zM470 669h1v13h-1zM470 776h1v25h-1zM471 657h1v2h-1zM471 675h1v5h-1zM471 687h1v1h-1zM471 792h1v9h-1zM472 657h1v2h-1zM472 675h1v3h-1zM472 687h1v1h-1zM473 657h1v2h-1zM473 675h1v1h-1zM473 687h1v1h-1zM474 657h1v2h-1zM474 675h1v1h-1zM474 687h1v1h-1zM475 657h1v2h-1zM475 675h1v1h-1zM475 687h1v1h-1zM476 657h1v2h-1zM476 675h1v1h-1zM476 687h1v1h-1zM477 657h1v2h-1zM477 675h1v1h-1zM477 687h1v1h-1zM477 694h1v26h-1zM478 657h1v2h-1zM478 675h1v1h-1zM478 687h1v1h-1zM479 657h1v2h-1zM479 675h1v1h-1zM479 678h1v3h-1zM479 687h1v1h-1zM480 657h1v2h-1zM480 675h1v13h-1zM481 657h1v2h-1zM481 678h1v13h-1zM482 657h1v2h-1zM482 681h1v16h-1zM483 657h1v2h-1zM483 686h1v16h-1zM484 657h1v2h-1zM484 690h1v50h-1zM485 657h1v2h-1zM485 690h1v61h-1zM486 657h1v2h-1zM486 693h1v42h-1zM487 657h1v2h-1zM487 697h1v62h-1zM488 657h1v2h-1zM488 702h1v9h-1zM488 712h1v16h-1zM488 729h1v31h-1zM489 657h1v2h-1zM489 707h1v9h-1zM489 718h1v13h-1zM489 759h1v1h-1zM490 657h1v2h-1zM490 711h1v9h-1zM490 722h1v9h-1zM490 759h1v1h-1zM491 657h1v2h-1zM491 716h1v17h-1zM491 759h1v1h-1zM492 657h1v2h-1zM492 720h1v16h-1zM492 759h1v1h-1zM493 657h1v2h-1zM493 720h1v34h-1zM493 759h1v1h-1zM494 657h1v2h-1zM494 729h1v12h-1zM494 759h1v1h-1zM495 657h1v2h-1zM496 657h1v2h-1zM497 657h1v2h-1zM497 727h1v36h-1zM498 657h1v2h-1zM498 728h1v50h-1zM499 657h1v2h-1zM499 729h1v1h-1zM500 657h1v2h-1zM500 729h1v1h-1zM500 747h1v11h-1zM500 759h1v1h-1zM501 657h1v2h-1zM501 729h1v1h-1zM501 750h1v11h-1zM502 657h1v2h-1zM502 729h1v1h-1zM503 657h1v2h-1zM503 729h1v1h-1zM504 657h1v2h-1zM504 729h1v1h-1zM504 757h1v34h-1zM505 657h1v2h-1zM505 729h1v1h-1zM505 759h1v12h-1zM505 790h1v1h-1zM506 657h1v2h-1zM506 729h1v1h-1zM506 790h1v1h-1zM507 657h1v2h-1zM507 729h1v1h-1zM508 657h1v2h-1zM508 729h1v16h-1zM508 790h1v1h-1zM509 657h1v2h-1zM509 766h1v16h-1zM509 790h1v1h-1zM510 657h1v2h-1zM510 769h1v17h-1zM510 790h1v1h-1zM511 657h1v2h-1zM511 769h1v1h-1zM511 774h1v15h-1zM511 790h1v1h-1zM512 657h1v2h-1zM512 751h1v40h-1zM513 657h1v2h-1zM513 752h1v40h-1zM514 657h1v2h-1zM514 769h1v1h-1zM514 782h1v12h-1zM515 657h1v2h-1zM516 657h1v2h-1zM516 769h1v1h-1zM516 787h1v9h-1zM517 657h1v2h-1zM517 769h1v1h-1zM517 789h1v8h-1zM518 657h1v2h-1zM518 760h1v1h-1zM519 657h1v2h-1zM519 769h1v1h-1zM519 790h1v1h-1zM519 794h1v7h-1zM520 657h1v2h-1zM520 769h1v22h-1zM520 797h1v4h-1zM521 657h1v16h-1zM521 799h1v2h-1zM522 658h1v36h-1zM523 658h1v72h-1zM524 658h1v15h-1zM525 658h1v50h-1zM526 658h1v70h-1zM527 658h1v72h-1zM528 658h1v10h-1zM529 659h1v10h-1zM530 659h1v26h-1zM531 659h1v39h-1zM532 659h1v42h-1zM533 659h1v54h-1zM534 659h1v66h-1zM535 659h1v10h-1zM535 670h1v30h-1zM536 660h1v29h-1zM537 660h1v47h-1zM538 660h1v18h-1zM539 660h1v10h-1zM539 671h1v31h-1zM540 660h1v17h-1zM541 660h1v21h-1zM542 660h1v16h-1zM543 661h1v10h-1zM544 661h1v11h-1zM544 679h1v2h-1zM545 661h1v11h-1zM545 683h1v9h-1zM546 661h1v19h-1zM547 661h1v11h-1zM548 661h1v16h-1zM549 661h1v17h-1zM550 662h1v18h-1zM551 662h1v57h-1zM552 662h1v12h-1zM552 681h1v47h-1zM553 663h1v17h-1zM554 663h1v27h-1zM555 663h1v29h-1zM556 664h1v40h-1zM557 664h1v12h-1zM558 665h1v65h-1zM559 665h1v16h-1zM560 665h1v66h-1zM561 666h1v65h-1zM562 666h1v22h-1zM563 666h1v16h-1zM564 667h1v49h-1zM565 667h1v19h-1zM566 667h1v11h-1zM567 668h1v29h-1zM568 668h1v11h-1zM569 668h1v45h-1zM570 669h1v47h-1zM571 669h1v60h-1zM572 670h1v64h-1zM573 670h1v15h-1zM574 670h1v37h-1zM575 671h1v30h-1zM576 671h1v25h-1zM577 671h1v24h-1zM578 672h1v71h-1zM579 672h1v18h-1zM580 672h1v32h-1zM581 673h1v10h-1zM581 703h1v14h-1zM582 673h1v15h-1zM583 673h1v61h-1zM584 674h1v56h-1zM585 674h1v10h-1zM586 675h1v9h-1zM587 675h1v28h-1zM588 675h1v71h-1zM589 676h1v34h-1zM590 676h1v47h-1zM591 676h1v10h-1zM592 677h1v2h-1zM592 686h1v43h-1zM593 677h1v2h-1zM594 677h1v14h-1zM595 678h1v22h-1zM596 678h1v13h-1zM597 678h1v17h-1zM598 679h1v13h-1zM599 679h1v13h-1zM600 680h1v13h-1zM601 680h1v13h-1zM602 680h1v14h-1zM603 681h1v13h-1zM604 681h1v32h-1zM605 681h1v32h-1zM606 682h1v13h-1zM607 682h1v13h-1zM608 683h1v13h-1zM609 683h1v13h-1zM610 683h1v13h-1zM611 684h1v13h-1zM612 684h1v13h-1zM613 684h1v64h-1zM614 685h1v63h-1zM615 685h1v13h-1zM616 685h1v13h-1zM617 686h1v13h-1zM618 686h1v13h-1zM619 687h1v9h-1zM620 687h1v13h-1zM621 687h1v13h-1zM622 688h1v13h-1zM623 688h1v13h-1zM624 688h1v13h-1zM625 689h1v13h-1zM626 689h1v13h-1zM627 690h1v32h-1zM628 690h1v15h-1zM629 690h1v13h-1zM630 691h1v15h-1zM631 691h1v13h-1zM632 691h1v9h-1zM633 692h1v13h-1zM634 692h1v13h-1zM635 693h1v14h-1zM636 693h1v13h-1zM637 693h1v13h-1zM638 694h1v8h-1zM639 694h1v13h-1zM640 694h1v13h-1zM641 695h1v8h-1zM642 695h1v13h-1zM643 695h1v13h-1zM644 696h1v12h-1zM645 696h1v13h-1zM646 697h1v12h-1zM647 697h1v12h-1zM648 697h1v13h-1zM649 698h1v12h-1zM650 698h1v13h-1zM651 698h1v13h-1zM652 699h1v12h-1zM653 699h1v27h-1zM654 700h1v25h-1zM655 700h1v40h-1zM656 699h1v56h-1zM657 699h1v2h-1zM657 702h1v68h-1zM658 699h1v2h-1zM658 702h1v76h-1zM659 699h1v2h-1zM659 705h1v73h-1zM660 699h1v2h-1zM660 706h1v72h-1zM661 699h1v2h-1zM661 705h1v14h-1zM661 747h1v30h-1zM662 699h1v2h-1zM662 705h1v37h-1zM662 759h1v18h-1zM663 699h1v2h-1zM663 705h1v33h-1zM663 771h1v6h-1zM664 699h1v2h-1zM664 708h1v33h-1zM665 699h1v2h-1zM665 712h1v12h-1zM665 725h1v16h-1zM666 699h1v2h-1zM666 715h1v1h-1zM666 717h1v28h-1zM667 699h1v2h-1zM667 712h1v2h-1zM667 715h1v1h-1zM667 721h1v5h-1zM667 735h1v15h-1zM668 699h1v2h-1zM668 712h1v5h-1zM668 726h1v13h-1zM668 740h1v16h-1zM669 699h1v2h-1zM669 712h1v9h-1zM669 728h1v1h-1zM669 730h1v14h-1zM669 745h1v16h-1zM670 699h1v2h-1zM670 714h1v10h-1zM670 728h1v1h-1zM670 735h1v13h-1zM670 750h1v16h-1zM671 699h1v2h-1zM671 715h1v1h-1zM671 717h1v10h-1zM671 728h1v1h-1zM671 740h1v13h-1zM671 756h1v13h-1zM672 699h1v2h-1zM672 715h1v42h-1zM672 761h1v8h-1zM673 699h1v2h-1zM673 722h1v12h-1zM673 735h1v5h-1zM673 745h1v1h-1zM673 748h1v14h-1zM673 766h1v3h-1zM674 699h1v2h-1zM674 725h1v11h-1zM674 745h1v21h-1zM675 699h1v2h-1zM675 720h1v2h-1zM675 728h1v41h-1zM676 699h1v2h-1zM676 720h1v6h-1zM676 728h1v1h-1zM676 733h1v11h-1zM676 745h1v1h-1zM676 762h1v7h-1zM677 699h1v2h-1zM677 722h1v8h-1zM677 737h1v16h-1zM677 766h1v3h-1zM678 699h1v2h-1zM678 726h1v8h-1zM678 741h1v11h-1zM679 699h1v2h-1zM679 728h1v1h-1zM679 730h1v8h-1zM679 741h1v15h-1zM680 699h1v2h-1zM680 728h1v1h-1zM680 734h1v8h-1zM680 745h1v1h-1zM680 747h1v13h-1zM681 699h1v2h-1zM681 728h1v1h-1zM681 738h1v8h-1zM681 750h1v14h-1zM682 699h1v2h-1zM682 728h1v1h-1zM682 742h1v7h-1zM682 754h1v14h-1zM683 699h1v2h-1zM683 728h1v1h-1zM683 745h1v8h-1zM683 757h1v15h-1zM684 699h1v2h-1zM684 728h1v1h-1zM684 745h1v1h-1zM684 749h1v9h-1zM684 760h1v16h-1zM685 699h1v2h-1zM685 728h1v1h-1zM685 745h1v1h-1zM685 750h1v12h-1zM685 764h1v15h-1zM686 699h1v16h-1zM686 728h1v18h-1zM686 751h1v28h-1zM687 702h1v13h-1zM687 752h1v28h-1zM688 702h1v13h-1zM688 754h1v7h-1zM688 765h1v8h-1zM688 774h1v5h-1zM689 702h1v13h-1zM689 769h1v10h-1zM690 702h1v13h-1zM690 773h1v6h-1zM691 702h1v14h-1zM691 777h1v2h-1zM692 703h1v13h-1zM693 703h1v13h-1zM694 703h1v13h-1zM695 703h1v13h-1zM696 704h1v12h-1zM697 704h1v13h-1zM698 704h1v13h-1zM699 704h1v13h-1zM700 704h1v13h-1zM701 705h1v12h-1zM702 705h1v13h-1zM703 705h1v13h-1zM704 705h1v13h-1zM705 706h1v44h-1zM706 706h1v12h-1zM707 706h1v5h-1zM707 746h1v18h-1zM708 706h1v36h-1zM709 706h1v48h-1zM710 707h1v12h-1zM710 731h1v35h-1zM711 707h1v12h-1zM711 743h1v30h-1zM712 707h1v12h-1zM712 755h1v18h-1zM713 707h1v32h-1zM713 767h1v6h-1zM714 708h1v24h-1zM715 708h1v34h-1zM716 708h1v5h-1zM716 718h1v3h-1zM716 725h1v23h-1zM717 708h1v48h-1zM718 708h1v19h-1zM718 741h1v23h-1zM719 708h1v2h-1zM719 715h1v22h-1zM719 749h1v20h-1zM720 708h1v2h-1zM720 724h1v27h-1zM720 757h1v12h-1zM721 708h1v2h-1zM721 746h1v23h-1zM722 708h1v21h-1zM722 751h1v22h-1zM723 708h1v13h-1zM723 765h1v8h-1zM724 709h1v12h-1zM725 709h1v12h-1zM726 709h1v13h-1zM727 710h1v12h-1zM728 710h1v12h-1zM729 710h1v13h-1zM730 711h1v18h-1zM731 711h1v12h-1zM732 711h1v12h-1zM733 711h1v16h-1zM734 712h1v12h-1zM735 712h1v14h-1zM736 712h1v10h-1zM737 712h1v13h-1zM738 713h1v14h-1zM739 713h1v12h-1zM740 713h1v12h-1zM741 714h1v12h-1zM742 714h1v52h-1zM743 714h1v52h-1zM744 714h1v13h-1zM745 715h1v12h-1zM746 715h1v14h-1zM747 715h1v12h-1zM748 716h1v12h-1zM749 716h1v37h-1zM750 716h1v37h-1zM751 716h1v20h-1zM752 717h1v12h-1zM753 717h1v12h-1zM754 717h1v12h-1zM755 717h1v15h-1zM756 718h1v10h-1zM757 718h1v12h-1zM758 718h1v12h-1zM759 719h1v12h-1zM760 719h1v12h-1zM761 719h1v12h-1zM762 719h1v12h-1zM763 720h1v16h-1zM764 720h1v12h-1zM765 720h1v41h-1zM766 720h1v41h-1zM767 721h1v12h-1zM768 721h1v12h-1zM769 721h1v12h-1zM770 722h1v14h-1zM771 722h1v12h-1zM772 722h1v12h-1zM773 722h1v12h-1zM774 723h1v12h-1zM775 723h1v12h-1zM776 723h1v12h-1zM777 724h1v43h-1zM778 724h1v43h-1zM779 724h1v12h-1zM780 724h1v12h-1zM781 725h1v12h-1zM782 725h1v12h-1zM783 725h1v10h-1zM784 725h1v12h-1zM785 726h1v12h-1zM786 726h1v12h-1zM787 726h1v12h-1zM788 727h1v11h-1zM789 727h1v9h-1zM790 727h1v12h-1zM791 727h1v12h-1zM792 728h1v16h-1zM793 728h1v12h-1zM794 728h1v15h-1zM795 728h1v12h-1zM796 729h1v21h-1zM797 729h1v17h-1zM798 729h1v12h-1zM799 730h1v29h-1zM800 730h1v29h-1zM801 730h1v10h-1zM802 730h1v12h-1zM803 731h1v11h-1zM804 731h1v9h-1zM805 731h1v12h-1zM806 732h1v14h-1zM807 732h1v12h-1zM808 732h1v16h-1zM809 732h1v12h-1zM810 733h1v11h-1zM811 733h1v36h-1zM812 733h1v36h-1zM813 733h1v14h-1zM814 734h1v15h-1zM815 734h1v14h-1zM816 734h1v12h-1zM817 735h1v11h-1zM818 735h1v25h-1zM819 735h1v14h-1zM820 735h1v12h-1zM821 736h1v11h-1zM822 736h1v16h-1zM823 736h1v12h-1zM824 736h1v12h-1zM825 737h1v11h-1zM826 737h1v9h-1zM827 737h1v21h-1zM828 738h1v11h-1zM829 738h1v21h-1zM830 738h1v27h-1zM831 738h1v10h-1zM831 753h1v12h-1zM832 739h1v11h-1zM833 739h1v15h-1zM834 739h1v12h-1zM835 739h1v18h-1zM836 740h1v9h-1zM837 740h1v12h-1zM838 740h1v12h-1zM839 741h1v15h-1zM840 741h1v9h-1zM841 741h1v12h-1zM842 741h1v10h-1zM843 742h1v11h-1zM844 742h1v12h-1zM845 742h1v12h-1zM846 743h1v9h-1zM846 757h1v14h-1zM847 743h1v28h-1zM848 743h1v14h-1zM849 743h1v14h-1zM850 744h1v11h-1zM851 744h1v11h-1zM852 744h1v12h-1zM853 744h1v12h-1zM854 745h1v11h-1zM855 745h1v11h-1zM856 745h1v12h-1zM857 746h1v11h-1zM858 746h1v11h-1zM859 746h1v12h-1zM860 746h1v15h-1zM861 747h1v9h-1zM861 762h1v20h-1zM862 747h1v9h-1zM862 762h1v20h-1zM863 747h1v21h-1zM864 747h1v12h-1zM865 748h1v11h-1zM866 748h1v9h-1zM867 748h1v25h-1zM868 749h1v11h-1zM869 749h1v11h-1zM870 749h1v9h-1zM870 762h1v1h-1zM871 749h1v10h-1zM872 750h1v11h-1zM873 750h1v25h-1zM874 750h1v12h-1zM875 751h1v25h-1zM876 751h1v25h-1zM877 751h1v14h-1zM878 751h1v15h-1zM879 752h1v11h-1zM880 752h1v11h-1zM881 752h1v11h-1zM882 752h1v12h-1zM883 753h1v11h-1zM884 753h1v11h-1zM885 753h1v12h-1zM886 754h1v9h-1zM887 754h1v9h-1zM888 754h1v11h-1zM889 754h1v12h-1zM890 755h1v10h-1zM891 756h1v9h-1zM892 757h1v8h-1zM893 757h1v44h-1zM894 758h1v43h-1zM895 759h1v2h-1zM895 762h1v39h-1zM896 759h1v2h-1zM896 762h1v40h-1zM897 759h1v2h-1zM897 762h1v18h-1zM897 785h1v17h-1zM898 759h1v2h-1zM898 762h1v40h-1zM899 759h1v2h-1zM899 762h1v41h-1zM900 759h1v2h-1zM900 762h1v41h-1zM901 759h1v2h-1zM901 762h1v41h-1zM902 759h1v2h-1zM902 766h1v15h-1zM902 783h1v21h-1zM903 759h1v2h-1zM903 766h1v17h-1zM903 784h1v9h-1zM904 759h1v2h-1zM904 767h1v19h-1zM905 759h1v2h-1zM905 768h1v28h-1zM906 759h1v2h-1zM906 769h1v8h-1zM907 759h1v2h-1zM907 770h1v28h-1zM908 759h1v2h-1zM908 771h1v16h-1zM909 759h1v2h-1zM909 771h1v29h-1zM910 759h1v2h-1zM910 772h1v8h-1zM910 781h1v6h-1zM910 788h1v14h-1zM911 759h1v2h-1zM911 773h1v17h-1zM912 759h1v2h-1zM912 774h1v17h-1zM913 759h1v2h-1zM913 775h1v25h-1zM914 759h1v2h-1zM914 776h1v20h-1zM915 759h1v2h-1zM915 776h1v25h-1zM916 759h1v2h-1zM916 777h1v9h-1zM917 759h1v2h-1zM917 778h1v25h-1zM918 759h1v2h-1zM918 779h1v17h-1zM919 759h1v2h-1zM919 780h1v32h-1zM920 759h1v2h-1zM920 781h1v25h-1zM921 759h1v2h-1zM921 781h1v18h-1zM922 759h1v2h-1zM922 782h1v29h-1zM923 759h1v2h-1zM923 783h1v18h-1zM924 759h1v2h-1zM924 784h1v22h-1zM925 759h1v2h-1zM925 785h1v29h-1zM926 759h1v2h-1zM926 786h1v17h-1zM927 759h1v2h-1zM927 786h1v21h-1zM928 759h1v2h-1zM928 787h1v17h-1zM929 759h1v2h-1zM929 788h1v19h-1zM930 759h1v2h-1zM930 789h1v20h-1zM931 759h1v2h-1zM931 790h1v17h-1zM932 759h1v2h-1zM932 791h1v30h-1zM933 759h1v2h-1zM933 791h1v30h-1zM934 759h1v2h-1zM934 792h1v11h-1zM935 759h1v2h-1zM935 793h1v24h-1zM936 759h1v2h-1zM936 794h1v27h-1zM937 759h1v2h-1zM937 795h1v14h-1zM938 759h1v2h-1zM938 796h1v9h-1zM939 759h1v2h-1zM939 796h1v14h-1zM940 759h1v2h-1zM940 797h1v11h-1zM941 759h1v13h-1zM941 798h1v20h-1zM942 759h1v13h-1zM943 761h1v9h-1zM944 761h1v33h-1zM945 762h1v32h-1zM946 762h1v11h-1zM947 762h1v12h-1zM948 763h1v11h-1zM949 763h1v11h-1zM950 763h1v13h-1zM951 764h1v27h-1zM952 764h1v27h-1zM953 765h1v10h-1zM954 765h1v11h-1zM955 765h1v11h-1zM956 766h1v8h-1zM957 766h1v13h-1zM958 766h1v14h-1zM959 767h1v10h-1zM960 767h1v41h-1zM961 767h1v41h-1zM962 768h1v18h-1zM963 768h1v8h-1zM964 768h1v18h-1zM965 769h1v18h-1zM966 769h1v8h-1zM967 769h1v11h-1zM968 770h1v10h-1zM969 770h1v8h-1zM970 770h1v31h-1zM971 771h1v30h-1zM972 771h1v13h-1zM973 771h1v11h-1zM974 772h1v15h-1zM975 772h1v10h-1zM976 773h1v10h-1zM977 773h1v10h-1zM978 773h1v10h-1zM979 774h1v11h-1zM980 774h1v13h-1zM981 774h1v10h-1zM982 775h1v40h-1zM983 775h1v40h-1zM984 775h1v10h-1zM985 776h1v12h-1zM986 776h1v10h-1zM987 776h1v10h-1zM988 777h1v10h-1zM989 777h1v10h-1zM990 777h1v26h-1zM991 778h1v25h-1zM992 778h1v10h-1zM993 778h1v7h-1zM994 779h1v10h-1zM995 779h1v10h-1zM996 779h1v10h-1zM997 780h1v10h-1zM998 780h1v10h-1zM999 781h1v9h-1zM1000 781h1v9h-1zM1001 781h1v18h-1zM1002 782h1v9h-1zM1003 782h1v9h-1zM1004 782h1v27h-1zM1005 783h1v26h-1zM1006 783h1v5h-1zM1006 793h1v9h-1zM1007 783h1v21h-1zM1008 784h1v23h-1zM1009 784h1v25h-1zM1010 784h1v28h-1zM1011 784h1v30h-1zM1012 784h1v33h-1zM1013 784h1v2h-1zM1013 787h1v32h-1zM1014 784h1v2h-1zM1014 789h1v33h-1zM1015 784h1v2h-1zM1015 790h1v34h-1zM1016 784h1v2h-1zM1016 792h1v34h-1zM1017 784h1v2h-1zM1017 794h1v35h-1zM1018 784h1v2h-1zM1018 795h1v36h-1zM1019 784h1v2h-1zM1019 797h1v36h-1zM1020 784h1v2h-1zM1020 798h1v35h-1zM1021 784h1v2h-1zM1021 800h1v34h-1zM1022 784h1v2h-1zM1022 802h1v32h-1zM1023 784h1v51h-1zM1024 786h1v14h-1zM1024 818h1v17h-1zM1025 786h1v13h-1zM1025 821h1v15h-1zM1026 786h1v8h-1zM1027 787h1v22h-1zM1028 787h1v24h-1zM1029 787h1v13h-1zM1030 787h1v16h-1zM1031 788h1v8h-1zM1032 788h1v32h-1zM1033 788h1v23h-1zM1034 789h1v8h-1zM1035 789h1v32h-1zM1036 789h1v31h-1zM1037 790h1v7h-1zM1038 790h1v20h-1zM1039 790h1v29h-1zM1040 790h1v13h-1zM1041 791h1v14h-1zM1042 791h1v30h-1zM1043 791h1v19h-1zM1044 792h1v20h-1zM1045 792h1v14h-1zM1046 792h1v8h-1zM1047 792h1v28h-1zM1048 793h1v31h-1zM1049 793h1v12h-1zM1050 793h1v17h-1zM1051 794h1v17h-1zM1052 794h1v21h-1zM1053 794h1v17h-1zM1054 795h1v12h-1zM1055 795h1v13h-1zM1056 795h1v7h-1zM1056 812h1v2h-1zM1057 795h1v20h-1zM1058 796h1v24h-1zM1059 796h1v26h-1zM1060 796h1v31h-1zM1061 797h1v12h-1zM1062 797h1v7h-1zM1062 812h1v16h-1zM1063 797h1v12h-1zM1064 798h1v26h-1zM1065 798h1v11h-1zM1066 798h1v21h-1zM1067 798h1v22h-1zM1068 799h1v11h-1zM1069 799h1v14h-1zM1070 799h1v7h-1zM1071 800h1v6h-1zM1071 818h1v8h-1zM1072 800h1v12h-1zM1073 800h1v7h-1zM1074 800h1v20h-1zM1075 801h1v6h-1zM1076 801h1v21h-1zM1077 801h1v11h-1zM1078 802h1v6h-1zM1078 815h1v17h-1zM1079 802h1v22h-1zM1080 802h1v7h-1zM1081 803h1v16h-1zM1082 803h1v9h-1zM1082 820h1v4h-1zM1083 803h1v19h-1zM1084 803h1v23h-1zM1085 804h1v25h-1zM1086 804h1v29h-1zM1087 804h1v33h-1zM1088 805h1v34h-1zM1089 805h1v34h-1zM1090 805h1v34h-1zM1091 805h1v34h-1zM1092 805h1v2h-1zM1092 808h1v31h-1zM1093 805h1v2h-1zM1093 809h1v30h-1zM1094 805h1v2h-1zM1094 810h1v30h-1zM1095 805h1v2h-1zM1095 812h1v28h-1zM1096 805h1v2h-1zM1096 813h1v27h-1zM1097 805h1v2h-1zM1097 814h1v26h-1zM1098 805h1v35h-1zM1099 807h1v9h-1zM1099 828h1v13h-1zM1100 807h1v9h-1zM1101 807h1v10h-1zM1102 808h1v9h-1zM1103 808h1v9h-1zM1104 808h1v10h-1zM1105 809h1v9h-1zM1106 809h1v9h-1zM1107 809h1v10h-1zM1108 810h1v9h-1zM1109 810h1v9h-1zM1110 810h1v10h-1zM1111 811h1v19h-1zM1112 811h1v26h-1zM1113 811h1v14h-1zM1114 812h1v28h-1zM1115 812h1v26h-1zM1116 812h1v7h-1zM1116 837h1v3h-1zM1117 812h1v2h-1zM1117 815h1v27h-1zM1118 812h1v2h-1zM1118 816h1v28h-1zM1119 812h1v2h-1zM1119 816h1v5h-1zM1119 835h1v11h-1zM1120 812h1v2h-1zM1120 816h1v32h-1zM1121 812h1v2h-1zM1121 817h1v30h-1zM1122 812h1v2h-1zM1122 817h1v30h-1zM1123 812h1v2h-1zM1123 817h1v30h-1zM1124 812h1v2h-1zM1124 817h1v7h-1zM1124 835h1v12h-1zM1125 812h1v2h-1zM1125 817h1v30h-1zM1126 812h1v2h-1zM1126 817h1v30h-1zM1127 812h1v2h-1zM1127 817h1v30h-1zM1128 812h1v2h-1zM1128 818h1v29h-1zM1129 812h1v2h-1zM1129 818h1v29h-1zM1130 812h1v2h-1zM1130 818h1v15h-1zM1130 834h1v13h-1zM1131 812h1v2h-1zM1131 818h1v29h-1zM1132 812h1v2h-1zM1132 818h1v9h-1zM1132 828h1v22h-1zM1133 812h1v2h-1zM1133 818h1v29h-1zM1134 812h1v16h-1zM1134 837h1v10h-1zM1135 814h1v16h-1zM1136 815h1v17h-1zM1137 816h1v19h-1zM1138 816h1v21h-1zM1139 817h1v21h-1zM1140 818h1v20h-1zM1141 820h1v19h-1zM1142 822h1v18h-1zM1143 824h1v17h-1zM1144 647h1v11h-1zM1144 826h1v15h-1zM1145 647h1v11h-1zM1145 828h1v14h-1zM1146 647h1v11h-1zM1146 830h1v13h-1zM1147 647h1v11h-1z" fill="#000"/>
<path d="M181 648h1v350h-1zM182 648h1v350h-1zM183 648h1v358h-1zM184 648h1v358h-1zM185 648h1v352h-1zM186 648h1v352h-1zM204 648h1v283h-1z" fill="#888"/>
<rect x="178" y="645" width="496" height="2.4" fill="#1e1e1e"/><rect x="674" y="645.2" width="472" height="2" fill="#4a4a4a"/>
<rect x="177.9" y="1048" width="32.60" height="55" fill="#f0e68c"/><rect x="208" y="1048" width="2.50" height="55" fill="#f4ee90"/><rect x="210.5" y="1048" width="2.20" height="55" fill="#9a9060"/><rect x="212.7" y="1048" width="6.70" height="55" fill="#f0e68c"/><rect x="219.4" y="1048" width="1.30" height="55" fill="#d8d088"/><rect x="220.7" y="1048" width="4.40" height="55" fill="#f5f08c"/><rect x="225.1" y="1048" width="2.50" height="55" fill="#ff0000"/><rect x="227.6" y="1048" width="1.60" height="55" fill="#f89050"/><rect x="229.2" y="1048" width="10.80" height="55" fill="#ff0000"/><rect x="240" y="1048" width="3.80" height="55" fill="#f4f090"/><rect x="243.8" y="1048" width="1.30" height="55" fill="#a09060"/><rect x="245.1" y="1048" width="2.20" height="55" fill="#d08860"/><rect x="247.3" y="1048" width="8.90" height="55" fill="#f0e68c"/><rect x="256.2" y="1048" width="1.20" height="55" fill="#807860"/><rect x="257.4" y="1048" width="2.60" height="55" fill="#c8c8a8"/><rect x="260" y="1048" width="3.10" height="55" fill="#f0e8a0"/><rect x="263.1" y="1048" width="11.50" height="55" fill="#32cd32"/><rect x="274.6" y="1048" width="8.20" height="55" fill="#f0e08c"/><rect x="282.8" y="1048" width="1.30" height="55" fill="#b8e090"/><rect x="284.1" y="1048" width="3.80" height="55" fill="#c8c8a0"/><rect x="287.9" y="1048" width="9.50" height="55" fill="#f0e68c"/><rect x="297.4" y="1048" width="2.20" height="55" fill="#b0d0b0"/><rect x="299.6" y="1048" width="3.90" height="55" fill="#ff0000"/><rect x="303.5" y="1048" width="3.50" height="55" fill="#e8e8a0"/><rect x="307" y="1048" width="2.00" height="55" fill="#a0a090"/><rect x="309" y="1048" width="3.00" height="55" fill="#ecec98"/><rect x="312" y="1048" width="1.30" height="55" fill="#404850"/><rect x="313.3" y="1048" width="3.50" height="55" fill="#e8e060"/><rect x="316.8" y="1048" width="25.00" height="55" fill="#ffff00"/><rect x="341.8" y="1048" width="5.00" height="55" fill="#90b090"/><rect x="346.8" y="1048" width="3.20" height="55" fill="#f0e060"/><rect x="350" y="1048" width="3.90" height="55" fill="#50d040"/><rect x="353.9" y="1048" width="5.40" height="55" fill="#b0b898"/><rect x="359.3" y="1048" width="3.20" height="55" fill="#7090b0"/><rect x="362.5" y="1048" width="2.30" height="55" fill="#000000"/><rect x="364.8" y="1048" width="3.20" height="55" fill="#5a9ad0"/><rect x="368" y="1048" width="3.80" height="55" fill="#4682b4"/><rect x="371.8" y="1048" width="1.60" height="55" fill="#101010"/><rect x="373.4" y="1048" width="2.60" height="55" fill="#80a8d0"/><rect x="376" y="1048" width="3.00" height="55" fill="#b0b870"/><rect x="379" y="1048" width="3.00" height="55" fill="#60a0d8"/><rect x="382" y="1048" width="1.10" height="55" fill="#000000"/><rect x="383.1" y="1048" width="2.90" height="55" fill="#90a0b8"/><rect x="386" y="1048" width="2.50" height="55" fill="#c0b870"/><rect x="388.5" y="1048" width="3.00" height="55" fill="#4682b4"/><rect x="391.5" y="1048" width="3.70" height="55" fill="#a0b0a0"/><rect x="395.2" y="1048" width="2.40" height="55" fill="#50c060"/><rect x="397.6" y="1048" width="5.40" height="55" fill="#4a80b0"/><rect x="403" y="1048" width="2.00" height="55" fill="#b0c060"/><rect x="405" y="1048" width="4.30" height="55" fill="#4a88d0"/><rect x="409.3" y="1048" width="1.90" height="55" fill="#000000"/><rect x="411.2" y="1048" width="5.80" height="55" fill="#5a90c0"/><rect x="417" y="1048" width="2.40" height="55" fill="#f0e890"/><rect x="419.4" y="1048" width="3.90" height="55" fill="#104010"/><rect x="423.3" y="1048" width="2.40" height="55" fill="#000000"/><rect x="425.7" y="1048" width="2.30" height="55" fill="#203850"/><rect x="428" y="1048" width="2.50" height="55" fill="#4682b4"/><rect x="430.5" y="1048" width="2.20" height="55" fill="#203850"/><rect x="432.7" y="1048" width="14.80" height="55" fill="#4682b4"/><rect x="440" y="1048" width="1.50" height="55" fill="#5a9ad0"/><rect x="447.5" y="1048" width="3.20" height="55" fill="#e0d8c8"/><rect x="450.7" y="1048" width="2.30" height="55" fill="#4682b4"/><rect x="453" y="1048" width="26.20" height="55" fill="#bebebe"/><rect x="479.2" y="1048" width="4.70" height="55" fill="#a8b8c8"/><rect x="483.9" y="1048" width="2.70" height="55" fill="#88a8c8"/><rect x="486.6" y="1048" width="9.00" height="55" fill="#bebebe"/><rect x="495.6" y="1048" width="1.60" height="55" fill="#a8bcd0"/><rect x="497.2" y="1048" width="23.40" height="55" fill="#c0c0c0"/><rect x="520.6" y="1048" width="0.80" height="55" fill="#804080"/><rect x="521.4" y="1048" width="4.20" height="55" fill="#5090c0"/><rect x="525.6" y="1048" width="11.40" height="55" fill="#4682b4"/><rect x="537" y="1048" width="1.50" height="55" fill="#204060"/><rect x="538.5" y="1048" width="20.30" height="55" fill="#4a88c0"/><rect x="558.8" y="1048" width="2.80" height="55" fill="#203850"/><rect x="561.6" y="1048" width="3.50" height="55" fill="#4a90d0"/><rect x="565.1" y="1048" width="1.50" height="55" fill="#305878"/><rect x="566.6" y="1048" width="14.10" height="55" fill="#4682b4"/><rect x="580.7" y="1048" width="10.90" height="55" fill="#000000"/><rect x="591.6" y="1048" width="552.40" height="55" fill="#4682b4"/><rect x="719.2" y="1048" width="1.70" height="55" fill="#2a5070"/><rect x="1144" y="1048" width="2.00" height="55" fill="#f0e68c"/>
<path d="M177.9 1048.2H1146M177.9 1102.6H1146" stroke="#555" stroke-width="1.6" fill="none"/>
<text transform="translate(1203.2 616.6) scale(1 1.04)" font-size="40" text-anchor="start" font-weight="bold">e</text>
<defs><linearGradient id="kg" x1="0" x2="1" y1="0" y2="0"><stop offset="0" stop-color="#fffcd2"/><stop offset="0.33" stop-color="#fffad0"/><stop offset="0.43" stop-color="#fde9ab"/><stop offset="0.6" stop-color="#fcd08a"/><stop offset="0.68" stop-color="#fcc070"/><stop offset="0.8" stop-color="#f7925a"/><stop offset="0.9" stop-color="#f2643a"/><stop offset="1" stop-color="#ee1a08"/></linearGradient></defs>
<rect x="1260.5" y="618" width="147.0" height="21" fill="url(#kg)" stroke="#111" stroke-width="2"/>
<text transform="translate(1281.8 612.8) scale(1 1.04)" font-size="23.4" text-anchor="middle">-0.5</text>
<text transform="translate(1334.4 612.8) scale(1 1.04)" font-size="23.4" text-anchor="middle">0</text>
<text transform="translate(1382.3 612.8) scale(1 1.04)" font-size="23.4" text-anchor="middle">0.5</text>
<text transform="translate(1677.4 629.8) scale(1 1.04)" font-size="28.3" text-anchor="middle" font-weight="bold">Module-trait relationships</text>
<rect x="1222.4" y="645.6" width="30.5" height="72.5" fill="#33cc33"/>
<rect x="1258.9" y="645.6" width="158.5" height="72.6" fill="#fdf6c0"/>
<text transform="translate(1333.7 678.6) scale(1 1.04)" font-size="23.1" text-anchor="middle">-0.29</text>
<text transform="translate(1333.7 700.3) scale(1 1.04)" font-size="23.1" text-anchor="middle">(0.1)</text>
<rect x="1417.0" y="645.6" width="158.3" height="72.6" fill="#f03816"/>
<text transform="translate(1495.3 678.6) scale(1 1.04)" font-size="23.1" text-anchor="middle">0.85</text>
<text transform="translate(1495.3 700.3) scale(1 1.04)" font-size="23.1" text-anchor="middle">(4e-10)</text>
<rect x="1574.9" y="645.6" width="158.1" height="72.6" fill="#fdf0b6"/>
<text transform="translate(1651.5 678.6) scale(1 1.04)" font-size="23.1" text-anchor="middle">-0.2</text>
<text transform="translate(1651.5 700.3) scale(1 1.04)" font-size="23.1" text-anchor="middle">(0.3)</text>
<rect x="1732.6" y="645.6" width="159.0" height="72.6" fill="#fefbc4"/>
<text transform="translate(1808.0 678.6) scale(1 1.04)" font-size="23.1" text-anchor="middle">-0.34</text>
<text transform="translate(1808.0 700.3) scale(1 1.04)" font-size="23.1" text-anchor="middle">(0.05)</text>
<rect x="1891.2" y="645.6" width="157.7" height="72.6" fill="#fddca0"/>
<text transform="translate(1971.3 678.6) scale(1 1.04)" font-size="23.1" text-anchor="middle">0.023</text>
<text transform="translate(1971.3 700.3) scale(1 1.04)" font-size="23.1" text-anchor="middle">(0.9)</text>
<rect x="1222.4" y="717.8" width="30.5" height="71.5" fill="#808080"/>
<rect x="1258.9" y="717.8" width="158.5" height="71.6" fill="#fdf6c2"/>
<text transform="translate(1333.7 750.1) scale(1 1.04)" font-size="23.1" text-anchor="middle">-0.3</text>
<text transform="translate(1333.7 771.8) scale(1 1.04)" font-size="23.1" text-anchor="middle">(0.08)</text>
<rect x="1417.0" y="717.8" width="158.3" height="71.6" fill="#fde9b1"/>
<text transform="translate(1495.3 750.1) scale(1 1.04)" font-size="23.1" text-anchor="middle">-0.13</text>
<text transform="translate(1495.3 771.8) scale(1 1.04)" font-size="23.1" text-anchor="middle">(0.5)</text>
<rect x="1574.9" y="717.8" width="158.1" height="71.6" fill="#fdce8c"/>
<text transform="translate(1651.5 750.1) scale(1 1.04)" font-size="23.1" text-anchor="middle">0.22</text>
<text transform="translate(1651.5 771.8) scale(1 1.04)" font-size="23.1" text-anchor="middle">(0.2)</text>
<rect x="1732.6" y="717.8" width="159.0" height="71.6" fill="#fcd494"/>
<text transform="translate(1808.0 750.1) scale(1 1.04)" font-size="23.1" text-anchor="middle">0.15</text>
<text transform="translate(1808.0 771.8) scale(1 1.04)" font-size="23.1" text-anchor="middle">(0.4)</text>
<rect x="1891.2" y="717.8" width="157.7" height="71.6" fill="#fcda9c"/>
<text transform="translate(1971.3 750.1) scale(1 1.04)" font-size="23.1" text-anchor="middle">0.057</text>
<text transform="translate(1971.3 771.8) scale(1 1.04)" font-size="23.1" text-anchor="middle">(0.8)</text>
<rect x="1222.4" y="789.0" width="30.5" height="72.6" fill="#000000"/>
<rect x="1258.9" y="789.0" width="158.5" height="72.7" fill="#fde3a6"/>
<text transform="translate(1333.7 821.6) scale(1 1.04)" font-size="23.1" text-anchor="middle">-0.11</text>
<text transform="translate(1333.7 843.3) scale(1 1.04)" font-size="23.1" text-anchor="middle">(0.5)</text>
<rect x="1417.0" y="789.0" width="158.3" height="72.7" fill="#fde6ab"/>
<text transform="translate(1495.3 821.6) scale(1 1.04)" font-size="23.1" text-anchor="middle">-0.12</text>
<text transform="translate(1495.3 843.3) scale(1 1.04)" font-size="23.1" text-anchor="middle">(0.5)</text>
<rect x="1574.9" y="789.0" width="158.1" height="72.7" fill="#f6874c"/>
<text transform="translate(1651.5 821.6) scale(1 1.04)" font-size="23.1" text-anchor="middle">0.56</text>
<text transform="translate(1651.5 843.3) scale(1 1.04)" font-size="23.1" text-anchor="middle">(7e-04)</text>
<rect x="1732.6" y="789.0" width="159.0" height="72.7" fill="#fffcc4"/>
<text transform="translate(1808.0 821.6) scale(1 1.04)" font-size="23.1" text-anchor="middle">-0.7</text>
<text transform="translate(1808.0 843.3) scale(1 1.04)" font-size="23.1" text-anchor="middle">(6e-06)</text>
<rect x="1891.2" y="789.0" width="157.7" height="72.7" fill="#f9ab6e"/>
<text transform="translate(1971.3 821.6) scale(1 1.04)" font-size="23.1" text-anchor="middle">0.42</text>
<text transform="translate(1971.3 843.3) scale(1 1.04)" font-size="23.1" text-anchor="middle">(0.01)</text>
<rect x="1222.4" y="861.3" width="30.5" height="71.5" fill="#4682b4"/>
<rect x="1258.9" y="861.3" width="158.5" height="71.6" fill="#fdf6c2"/>
<text transform="translate(1333.7 893.1) scale(1 1.04)" font-size="23.1" text-anchor="middle">-0.31</text>
<text transform="translate(1333.7 914.8) scale(1 1.04)" font-size="23.1" text-anchor="middle">(0.08)</text>
<rect x="1417.0" y="861.3" width="158.3" height="71.6" fill="#fdf4bd"/>
<text transform="translate(1495.3 893.1) scale(1 1.04)" font-size="23.1" text-anchor="middle">-0.27</text>
<text transform="translate(1495.3 914.8) scale(1 1.04)" font-size="23.1" text-anchor="middle">(0.1)</text>
<rect x="1574.9" y="861.3" width="158.1" height="71.6" fill="#fdf3bb"/>
<text transform="translate(1651.5 893.1) scale(1 1.04)" font-size="23.1" text-anchor="middle">-0.24</text>
<text transform="translate(1651.5 914.8) scale(1 1.04)" font-size="23.1" text-anchor="middle">(0.2)</text>
<rect x="1732.6" y="861.3" width="159.0" height="71.6" fill="#ed1c00"/>
<text transform="translate(1808.0 893.1) scale(1 1.04)" font-size="23.1" text-anchor="middle">0.99</text>
<text transform="translate(1808.0 914.8) scale(1 1.04)" font-size="23.1" text-anchor="middle">(2e-27)</text>
<rect x="1891.2" y="861.3" width="157.7" height="71.6" fill="#fdf4bd"/>
<text transform="translate(1971.3 893.1) scale(1 1.04)" font-size="23.1" text-anchor="middle">-0.27</text>
<text transform="translate(1971.3 914.8) scale(1 1.04)" font-size="23.1" text-anchor="middle">(0.1)</text>
<rect x="1222.4" y="932.5" width="30.5" height="72.1" fill="#ffff00"/>
<rect x="1258.9" y="932.5" width="158.5" height="72.2" fill="#f68c50"/>
<text transform="translate(1333.7 964.6) scale(1 1.04)" font-size="23.1" text-anchor="middle">0.53</text>
<text transform="translate(1333.7 986.3) scale(1 1.04)" font-size="23.1" text-anchor="middle">(0.001)</text>
<rect x="1417.0" y="932.5" width="158.3" height="72.2" fill="#fcd898"/>
<text transform="translate(1495.3 964.6) scale(1 1.04)" font-size="23.1" text-anchor="middle">0.067</text>
<text transform="translate(1495.3 986.3) scale(1 1.04)" font-size="23.1" text-anchor="middle">(0.7)</text>
<rect x="1574.9" y="932.5" width="158.1" height="72.2" fill="#fdf6c0"/>
<text transform="translate(1651.5 964.6) scale(1 1.04)" font-size="23.1" text-anchor="middle">-0.29</text>
<text transform="translate(1651.5 986.3) scale(1 1.04)" font-size="23.1" text-anchor="middle">(0.1)</text>
<rect x="1732.6" y="932.5" width="159.0" height="72.2" fill="#fbe0a2"/>
<text transform="translate(1808.0 964.6) scale(1 1.04)" font-size="23.1" text-anchor="middle">-0.028</text>
<text transform="translate(1808.0 986.3) scale(1 1.04)" font-size="23.1" text-anchor="middle">(0.9)</text>
<rect x="1891.2" y="932.5" width="157.7" height="72.2" fill="#fdf4bd"/>
<text transform="translate(1971.3 964.6) scale(1 1.04)" font-size="23.1" text-anchor="middle">-0.27</text>
<text transform="translate(1971.3 986.3) scale(1 1.04)" font-size="23.1" text-anchor="middle">(0.1)</text>
<rect x="1222.4" y="1004.3" width="30.5" height="72.6" fill="#f0e68c"/>
<rect x="1258.9" y="1004.3" width="158.5" height="72.7" fill="#fdf1b8"/>
<text transform="translate(1333.7 1036.1) scale(1 1.04)" font-size="23.1" text-anchor="middle">-0.22</text>
<text transform="translate(1333.7 1057.8) scale(1 1.04)" font-size="23.1" text-anchor="middle">(0.2)</text>
<rect x="1417.0" y="1004.3" width="158.3" height="72.7" fill="#f2441c"/>
<text transform="translate(1495.3 1036.1) scale(1 1.04)" font-size="23.1" text-anchor="middle">0.79</text>
<text transform="translate(1495.3 1057.8) scale(1 1.04)" font-size="23.1" text-anchor="middle">(5e-08)</text>
<rect x="1574.9" y="1004.3" width="158.1" height="72.7" fill="#fdf3bb"/>
<text transform="translate(1651.5 1036.1) scale(1 1.04)" font-size="23.1" text-anchor="middle">-0.24</text>
<text transform="translate(1651.5 1057.8) scale(1 1.04)" font-size="23.1" text-anchor="middle">(0.2)</text>
<rect x="1732.6" y="1004.3" width="159.0" height="72.7" fill="#fbe2a4"/>
<text transform="translate(1808.0 1036.1) scale(1 1.04)" font-size="23.1" text-anchor="middle">-0.043</text>
<text transform="translate(1808.0 1057.8) scale(1 1.04)" font-size="23.1" text-anchor="middle">(0.8)</text>
<rect x="1891.2" y="1004.3" width="157.7" height="72.7" fill="#fdf4bd"/>
<text transform="translate(1971.3 1036.1) scale(1 1.04)" font-size="23.1" text-anchor="middle">-0.26</text>
<text transform="translate(1971.3 1057.8) scale(1 1.04)" font-size="23.1" text-anchor="middle">(0.1)</text>
<text transform="translate(1333.9 1103.2) scale(1 1.04)" font-size="28.2" text-anchor="middle">EB</text>
<text transform="translate(1495.3 1103.2) scale(1 1.04)" font-size="28.2" text-anchor="middle">Ecto-</text>
<text transform="translate(1651.5 1103.2) scale(1 1.04)" font-size="28.2" text-anchor="middle">Endo-</text>
<text transform="translate(1808.0 1103.2) scale(1 1.04)" font-size="28.2" text-anchor="middle">ESC</text>
<text transform="translate(1971.0 1103.2) scale(1 1.04)" font-size="28.2" text-anchor="middle">Meso-</text>
</svg>
</body></html>
